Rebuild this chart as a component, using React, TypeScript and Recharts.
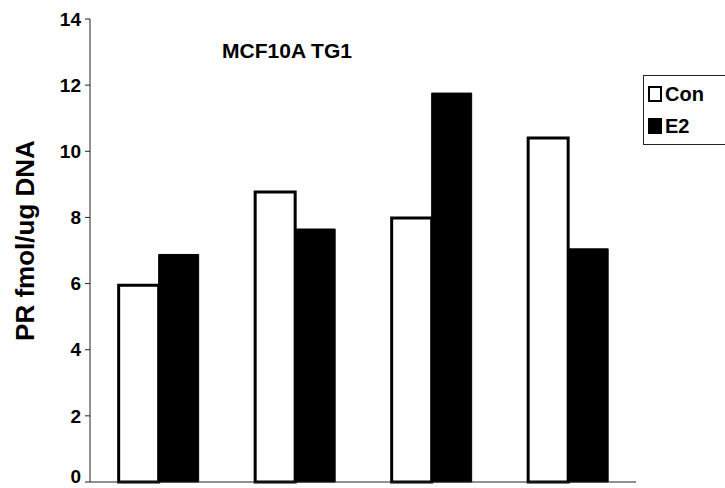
import React from 'react'
import { BarChart, Bar, XAxis, YAxis, Legend } from 'recharts'

const categories = ['1', '2', '3', '4']
const conValues = [5.95, 8.77, 7.98, 10.4]
const e2Values = [6.88, 7.65, 11.76, 7.05]
const yTicks = [0, 2, 4, 6, 8, 10, 12, 14]

const data = categories.map((c, i) => ({ name: c, Con: conValues[i], E2: e2Values[i] }))

const FONT = '"Liberation Sans", Arial, sans-serif'

// ticks sit on the category boundaries, not the centres
const BoundaryTick = (props: any) => {
  const { x, y, payload, index, visibleTicksCount } = props
  const half = payload.offset || 0
  const last = index === visibleTicksCount - 1
  return (
    <g>
      <line x1={x - half} x2={x - half} y1={y - 1} y2={y + 5} stroke="#222" />
      {last && <line x1={x + half} x2={x + half} y1={y - 1} y2={y + 5} stroke="#222" />}
    </g>
  )
}

// y labels; the 0 is nudged up so it stays inside the frame
const YTick = (props: any) => {
  const { x, y, payload } = props
  const lift = payload.value === 0 ? -6 : 0
  return (
    <text x={x} y={y + lift} dy="0.355em" textAnchor="end" fill="#000"
      fontFamily={FONT} fontWeight="bold" fontSize={19}>
      {payload.value}
    </text>
  )
}

const LegendBox = () => (
  <div style={{ border: '1px solid #222', borderRight: 'none', background: '#fff', padding: '2px 8px 2px 4px', fontFamily: FONT, fontWeight: 'bold', fontSize: 20, lineHeight: '32px', width: 70 }}>
    <div style={{ display: 'flex', alignItems: 'center' }}>
      <span style={{ width: 10, height: 12, border: '2px solid #000', background: '#fff', marginRight: 3 }} />Con
    </div>
    <div style={{ display: 'flex', alignItems: 'center' }}>
      <span style={{ width: 14, height: 16, background: '#000', marginRight: 3 }} />E2
    </div>
  </div>
)

export default function App() {
  return (
    <div style={{ position: 'absolute', left: 0, top: 0, width: 725, height: 488, background: '#fff', overflow: 'hidden' }}>
      <BarChart width={725} height={488} data={data} margin={{ top: 19, right: 89, bottom: 0, left: 0 }}
        barCategoryGap="21%" barGap={0}>
        <XAxis dataKey="name" height={6} tickLine={false} tick={<BoundaryTick />} stroke="#222" interval={0} />
        <YAxis domain={[0, 14]} ticks={yTicks} interval={0} width={90} stroke="#222" tickSize={5} tickMargin={4}
          tick={<YTick />}
          label={({ viewBox }: any) => (
            <text transform={`translate(${viewBox.x + 34}, ${viewBox.y + viewBox.height / 2 - 10}) rotate(-90)`}
              textAnchor="middle" fontFamily={FONT} fontWeight="bold" fontSize={26} fill="#000">
              PR fmol/ug DNA
            </text>
          )} />
        <Legend layout="vertical" align="center" verticalAlign="middle" content={<LegendBox />}
          wrapperStyle={{ left: 643, top: 75, width: 'auto' }} />
        <Bar dataKey="Con" fill="#fff" stroke="#000" strokeWidth={3} isAnimationActive={false} />
        <Bar dataKey="E2" fill="#000" stroke="#000" isAnimationActive={false} />
      </BarChart>
      <div style={{ position: 'absolute', left: 187, top: 39, width: 200, textAlign: 'center', fontFamily: FONT, fontWeight: 'bold', fontSize: 21, color: '#000' }}>
        MCF10A TG1
      </div>
    </div>
  )
}
